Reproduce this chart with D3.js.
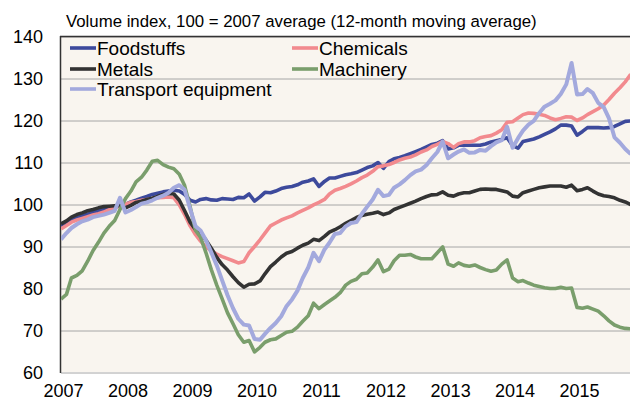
<!DOCTYPE html>
<html>
<head>
<meta charset="utf-8">
<script src="https://cdn.jsdelivr.net/npm/d3@7"></script>
<style>
  body { margin: 0; background: #fff; }
  svg { display: block; font-family: "Liberation Sans", Arial, sans-serif; }
</style>
</head>
<body>
<svg></svg>
<script>
// monthly data, Jan 2007 .. Nov 2015
const startYear = 2007;
const yearLabels = [2007, 2008, 2009, 2010, 2011, 2012, 2013, 2014, 2015];
const yTicks = [60, 70, 80, 90, 100, 110, 120, 130, 140];

const foodstuffs = [
  94.8, 95.5, 96.2, 96.8, 97.3, 97.7, 98.1, 98.5, 98.9, 99.2, 99.5, 99.8,
  100.0, 100.6, 101.0, 101.5, 101.9, 102.4, 102.7, 103.0, 103.2, 103.4, 103.2, 102.4,
  101.0, 100.6, 101.2, 101.4, 101.1, 101.0, 101.4, 101.3, 101.2, 101.7, 101.6, 102.5,
  100.8, 101.8, 102.9, 102.8, 103.2, 103.8, 104.1, 104.3, 104.7, 105.3, 105.6, 106.1,
  104.3, 105.5, 106.3, 106.3, 106.7, 107.1, 107.3, 107.6, 108.2, 108.8, 109.2, 110.0,
  108.6, 110.2, 110.9, 111.2, 111.6, 112.1, 112.6, 113.1, 113.7, 114.3, 114.6, 115.2,
  113.2, 113.5, 114.1, 114.1, 114.1, 114.1, 114.1, 114.4, 114.9, 115.2, 115.5, 115.9,
  114.0, 113.4, 115.0, 115.3, 115.6, 116.1, 116.7, 117.3, 118.0, 118.9, 118.9, 118.7,
  116.5, 117.4, 118.3, 118.3, 118.3, 118.2, 118.3, 118.6, 119.2, 119.8, 119.9
];
const chemicals = [
  94.2, 95.0, 95.8, 96.3, 96.7, 97.1, 97.5, 97.8, 98.2, 98.8, 99.2, 99.6,
  100.1, 100.5, 100.7, 101.0, 101.2, 101.4, 101.6, 101.7, 101.8, 101.6, 99.9, 97.6,
  94.9, 92.8, 91.3, 89.9, 89.0, 88.2, 87.6, 87.1, 86.6, 86.1, 86.4, 88.5,
  90.0, 91.6, 93.2, 94.9, 95.6, 96.3, 96.8, 97.3, 98.0, 98.6, 99.2, 99.9,
  100.5, 101.2, 102.5, 103.4, 103.8, 104.3, 104.9, 105.6, 106.4, 107.0, 107.9, 109.0,
  109.2, 109.5, 110.0, 110.6, 111.0, 111.3, 111.8, 112.5, 113.0, 113.8, 114.3, 115.0,
  114.5, 113.6, 114.5, 114.9, 114.9, 115.2, 115.9, 116.2, 116.4, 117.0, 117.8, 119.6,
  119.7, 120.6, 121.4, 121.8, 121.7, 121.5, 121.2, 120.6, 120.2, 120.5, 120.9, 120.8,
  120.0, 120.6, 121.4, 122.1, 122.8, 123.7, 125.0, 126.5, 127.8, 129.2, 131.0
];
const metals = [
  95.4, 96.1, 97.0, 97.6, 98.0, 98.5, 98.8, 99.2, 99.5, 99.6, 99.7, 99.8,
  99.2, 99.8, 100.5, 100.8, 101.2, 101.5, 101.9, 102.4, 102.6, 102.5, 101.0, 98.5,
  95.8, 94.0, 93.2, 91.5, 89.6, 87.4, 85.7, 84.4, 82.8, 81.4, 80.3, 81.0,
  81.1, 81.8, 83.5, 85.2, 86.3, 87.5, 88.4, 88.8, 89.6, 90.3, 90.8, 91.7,
  91.4, 92.4, 93.4, 94.0, 94.7, 95.5, 96.2, 96.9, 97.4, 97.7, 97.9, 98.2,
  97.6, 98.0, 98.8, 99.3, 99.8, 100.3, 100.8, 101.4, 101.9, 102.3, 102.4, 103.0,
  102.2, 102.0, 102.5, 102.8, 102.8, 103.2, 103.6, 103.7, 103.6, 103.6, 103.3, 103.0,
  102.0, 101.8, 102.8, 103.2, 103.6, 104.0, 104.2, 104.4, 104.4, 104.4, 104.1, 104.6,
  103.3, 103.6, 104.0, 103.2, 102.5, 102.1, 101.9, 101.6, 101.0, 100.6, 100.0
];
const machinery = [
  77.5, 78.6, 82.5, 83.1, 84.2, 86.5, 89.0, 91.0, 93.2, 94.8, 96.2, 98.8,
  101.4, 103.2, 105.4, 106.5, 108.2, 110.3, 110.5, 109.5, 108.9, 108.5, 107.2, 104.5,
  99.5, 93.8, 92.2, 88.5, 84.5, 80.8, 77.6, 74.2, 71.6, 69.0, 67.2, 67.6,
  64.9, 66.0, 67.2, 67.8, 68.0, 68.8, 69.6, 69.8, 70.8, 72.2, 73.5, 76.5,
  75.2, 76.2, 77.0, 77.9, 79.0, 80.8, 81.7, 82.2, 83.5, 83.7, 85.1, 86.8,
  84.0, 84.6, 86.6, 87.9, 87.9, 88.1, 87.5, 87.1, 87.1, 87.1, 88.5, 89.9,
  85.8, 85.3, 86.1, 85.5, 85.3, 85.6, 85.0, 84.5, 84.1, 84.4, 85.8, 86.8,
  82.5, 81.6, 81.9, 81.3, 80.8, 80.5, 80.2, 80.0, 80.0, 80.3, 80.0, 80.1,
  75.5, 75.3, 75.6, 75.1, 74.6, 73.5, 72.3, 71.3, 70.8, 70.5, 70.4
];
const transport = [
  91.7, 93.2, 94.4, 95.3, 96.0, 96.4, 97.0, 97.3, 97.6, 98.0, 98.5, 101.6,
  98.1, 98.7, 99.4, 100.2, 100.5, 101.0, 101.6, 102.1, 102.8, 104.0, 104.6, 103.5,
  99.0, 94.8, 93.8, 91.5, 88.6, 85.5, 82.0, 78.4, 75.3, 72.8, 71.4, 71.2,
  68.0, 67.8, 69.2, 70.6, 71.8, 73.4, 75.8, 77.4, 79.5, 82.5, 85.0, 88.5,
  86.5, 89.3, 90.9, 93.0, 93.2, 94.8, 95.6, 95.8, 97.8, 99.5, 101.2, 103.5,
  102.0, 102.3, 104.0, 104.8, 105.8, 107.0, 107.9, 108.3, 109.4, 111.0, 112.5, 115.0,
  111.0, 111.9, 112.6, 113.1, 112.3, 112.4, 113.0, 112.8, 113.9, 114.8, 115.3, 118.5,
  113.5, 115.8, 117.6, 119.0, 119.9, 121.8, 123.3, 124.0, 124.8, 126.3, 128.6, 133.7,
  126.2, 126.3, 127.5, 126.5, 124.2, 123.2, 120.5, 116.0, 114.7, 113.2, 112.0
];

const seriesNames = ["Foodstuffs", "Chemicals", "Metals", "Machinery", "Transport equipment"];
const seriesValues = [foodstuffs, chemicals, metals, machinery, transport];
const seriesColors = ["#3d4a9c", "#f28a8e", "#333333", "#7a9e6c", "#a3a9dd"];

const width = 630;
const height = 401;
const svg = d3.select("svg").attr("width", width).attr("height", height);

const margin = { left: 61, top: 37, bottom: 29 };
const plotRight = 61 + 9 * 64.5;
const plotBottom = height - margin.bottom;

const xScale = d3.scaleTime()
  .domain([new Date(startYear, 0, 1), new Date(startYear + 9, 0, 1)])
  .range([margin.left, plotRight]);
const yScale = d3.scaleLinear().domain([60, 140]).range([plotBottom + 0.5, margin.top - 0.5]);

const dateOf = (i) => new Date(startYear, i, 1);

svg.append("defs").append("clipPath").attr("id", "plot-clip")
  .append("rect")
  .attr("x", margin.left).attr("y", margin.top - 1)
  .attr("width", plotRight - margin.left).attr("height", plotBottom - margin.top + 2);

// background
svg.append("rect")
  .attr("x", margin.left).attr("y", margin.top)
  .attr("width", plotRight - margin.left).attr("height", plotBottom - margin.top)
  .attr("fill", "#f9f5ef");

// gridlines
const yAxis = d3.axisLeft(yScale)
  .tickValues(yTicks)
  .tickSize(-(plotRight - margin.left))
  .tickPadding(18)
  .tickFormat(d3.format("d"));
const yAxisG = svg.append("g")
  .attr("transform", `translate(${margin.left}, 0)`)
  .call(yAxis);
yAxisG.select(".domain").remove();
yAxisG.selectAll(".tick line").attr("stroke", "#a6a6a6").attr("stroke-width", 1);
yAxisG.selectAll(".tick text")
  .attr("fill", "#000")
  .attr("font-size", 18)
  .attr("dy", "0.36em");

// x axis labels
const xAxis = d3.axisBottom(xScale)
  .tickValues(yearLabels.map((y) => new Date(y, 0, 1)))
  .tickSize(0)
  .tickPadding(12)
  .tickFormat(d3.timeFormat("%Y"));
const xAxisG = svg.append("g")
  .attr("transform", `translate(2, ${plotBottom})`)
  .call(xAxis);
xAxisG.select(".domain").remove();
xAxisG.selectAll(".tick text").attr("fill", "#000").attr("font-size", 18);

// frame: left and top in dark
svg.append("line")
  .attr("x1", margin.left - 0.5).attr("x2", margin.left - 0.5)
  .attr("y1", margin.top - 1).attr("y2", plotBottom + 1)
  .attr("stroke", "#333").attr("stroke-width", 1.5);
svg.append("line")
  .attr("x1", margin.left - 1).attr("x2", plotRight)
  .attr("y1", margin.top - 0.5).attr("y2", margin.top - 0.5)
  .attr("stroke", "#333").attr("stroke-width", 1.5);

// lines
const line = d3.line()
  .x((d, i) => xScale(dateOf(i)))
  .y((d) => yScale(d));

const linesG = svg.append("g").attr("clip-path", "url(#plot-clip)");
seriesValues.forEach((vals, k) => {
  linesG.append("path")
    .datum(vals)
    .attr("d", line)
    .attr("fill", "none")
    .attr("stroke", seriesColors[k])
    .attr("stroke-width", k === 4 ? 4 : 3.6)
    .attr("stroke-linejoin", "round");
});

// legend
const legendPos = [
  { x: 70, y: 48 }, { x: 292, y: 48 },
  { x: 70, y: 69 }, { x: 292, y: 69 },
  { x: 70, y: 89 }
];
const legend = svg.append("g");
seriesNames.forEach((name, k) => {
  const p = legendPos[k];
  legend.append("line")
    .attr("x1", p.x).attr("x2", p.x + 26)
    .attr("y1", p.y).attr("y2", p.y)
    .attr("stroke", seriesColors[k])
    .attr("stroke-width", 3.6);
  legend.append("text")
    .attr("x", p.x + 27).attr("y", p.y)
    .attr("dy", "0.36em")
    .attr("font-size", 19)
    .attr("fill", "#000")
    .text(name);
});

// subtitle
svg.append("text")
  .attr("x", 66).attr("y", 27)
  .attr("font-size", 16.8)
  .attr("fill", "#000")
  .text("Volume index, 100 = 2007 average (12-month moving average)");
</script>
</body>
</html>
